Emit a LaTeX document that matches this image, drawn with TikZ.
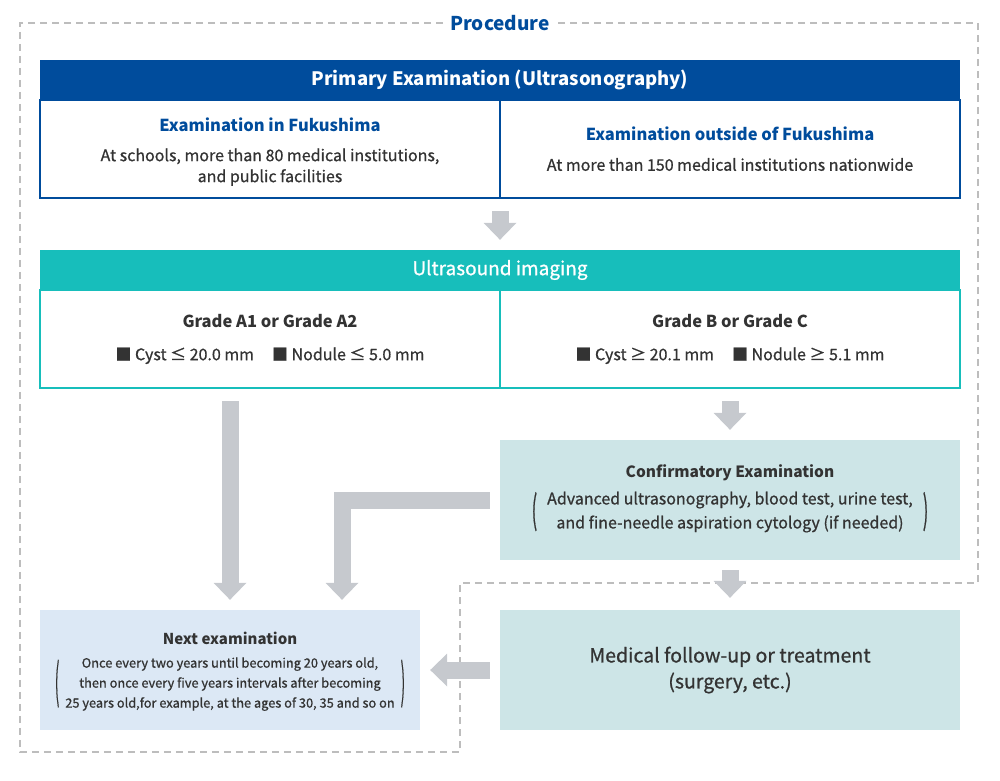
\documentclass[tikz,border=0pt]{standalone}
\usepackage{fontspec}
\setmainfont{Noto Sans CJK JP}[UprightFeatures={FakeBold=0.8}]
\usetikzlibrary{arrows.meta}
\definecolor{navy}{HTML}{004C9C}
\definecolor{teal}{HTML}{17BEBB}
\definecolor{ink}{HTML}{333333}
\definecolor{mint}{HTML}{CDE5E7}
\definecolor{sky}{HTML}{DCE8F5}
\definecolor{arrowgray}{HTML}{C6C9CE}
\definecolor{framegray}{HTML}{BDBDBD}
% tall thin bracket, vertically centred
\newcommand{\tallparen}[2]{$\vcenter{\hbox{\scalebox{1}[#1]{#2}}}$}
\newcommand{\midblock}[1]{$\vcenter{\hbox{\begin{tabular}{@{}c@{}}#1\end{tabular}}}$}
\tikzset{
  hdr/.style={fill=#1, text=white, minimum width=920pt, minimum height=40pt,
    inner sep=0pt, font=\fontsize{18.5}{20}\selectfont\bfseries},
  cell/.style={draw=#1, line width=2pt, minimum width=460pt, minimum height=98pt,
    inner sep=0pt, align=center, text=ink, font=\fontsize{16}{21}\selectfont},
  pane/.style={fill=#1, minimum width=460pt, minimum height=120pt,
    inner sep=0pt, align=center, text=ink},
  bigarrow/.style={draw=arrowgray, line width=17pt,
    -{Triangle[length=17pt,width=33pt,line width=0pt]}},
  frame/.style={draw=framegray, line width=1.3pt, dash pattern=on 7pt off 5pt},
}
\begin{document}
\begin{tikzpicture}[x=1pt,y=-1pt]
  \useasboundingbox (0,0) rectangle (1000,780);
  % procedure frame
  \node[text=navy, inner xsep=7pt, font=\fontsize{19}{20}\selectfont\bfseries]
    (proc) at (500,23) {Procedure};
  \draw[frame] (proc.west) -| (20,752) -| (460,583) -| (978,23) -- (proc.east);
  % primary examination
  \node[hdr=navy] (prim) at (500,80) {Primary Examination (Ultrasonography)};
  \node[cell=navy] (fuku) at (270,149)
    {\rule{0pt}{19pt}{\color{navy}\bfseries\fontsize{16.5}{20}\selectfont Examination in Fukushima}\\[9pt]
     At schools, more than 80 medical institutions,\\ and public facilities};
  \node[cell=navy] (outside) at (730,149)
    {{\color{navy}\bfseries\fontsize{16.5}{20}\selectfont Examination outside of Fukushima}\\[9pt]
     At more than 150 medical institutions nationwide};
  % ultrasound imaging
  \node[hdr=teal, font=\fontsize{19}{20}\selectfont] (ultra) at (500,270) {Ultrasound imaging};
  \node[cell=teal] (gradeA) at (270,339)
    {{\bfseries\fontsize{16.5}{20}\selectfont Grade A1 or Grade A2}\\[12pt]
     ■ Cyst ≤ 20.0 mm\hspace{18pt}■ Nodule ≤ 5.0 mm};
  \node[cell=teal] (gradeB) at (730,339)
    {{\bfseries\fontsize{16.5}{20}\selectfont Grade B or Grade C}\\[12pt]
     ■ Cyst ≥ 20.1 mm\hspace{18pt}■ Nodule ≥ 5.1 mm};
  % follow-up boxes
  \node[pane=mint, font=\fontsize{16}{24}\selectfont] (confirm) at (730,500)
    {{\bfseries\fontsize{15.5}{20}\selectfont Confirmatory Examination}\\[6pt]
     \tallparen{2.4}{(}\hspace{10pt}\midblock{Advanced ultrasonography, blood test, urine test,\\
       and fine-needle aspiration cytology (if needed)}\hspace{10pt}\tallparen{2.4}{)}};
  \node[pane=mint, font=\fontsize{19.5}{26}\selectfont] (medical) at (730,670)
    {Medical follow-up or treatment\\(surgery, etc.)};
  \node[pane=sky, minimum width=380pt, font=\fontsize{12.8}{20}\selectfont] (next) at (230,670)
    {\rule{0pt}{18pt}{\bfseries\fontsize{15}{20}\selectfont Next examination}\\[8pt]
     \tallparen{3.7}{(}\hspace{6pt}\midblock{Once every two years until becoming 20 years old,\\
       then once every five years intervals after becoming\\
       25 years old,for example, at the ages of 30, 35 and so on}\hspace{6pt}\tallparen{3.7}{)}};
  % arrows
  \draw[bigarrow] ([yshift=-12pt]prim.south |- fuku.south) -- ([yshift=10pt]ultra.north);
  \draw[bigarrow] ([yshift=-12pt]next.north |- gradeA.south) -- ([yshift=10pt]next.north);
  \draw[bigarrow] ([yshift=-12pt]gradeB.south) -- ([yshift=10pt]confirm.north);
  \draw[bigarrow] ([xshift=-10pt]confirm.west) -| ([xshift=112pt,yshift=10pt]next.north);
  \draw[bigarrow] ([yshift=-10pt]confirm.south) -- ([yshift=12pt]medical.north);
  \draw[bigarrow] ([xshift=-10pt]medical.west) -- ([xshift=10pt]next.east);
\end{tikzpicture}
\end{document}
